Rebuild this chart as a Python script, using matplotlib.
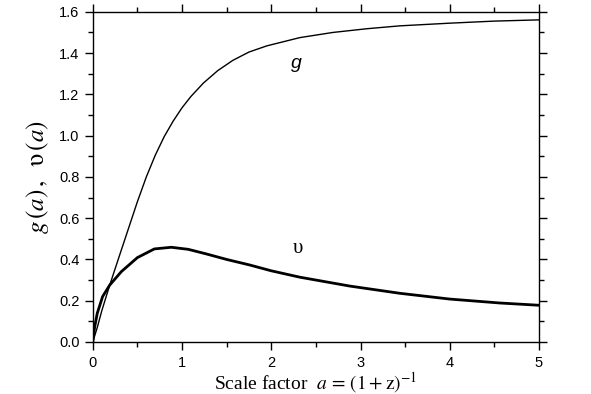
import numpy as np
import matplotlib
matplotlib.use("Agg")
import matplotlib.pyplot as plt
from matplotlib.ticker import MultipleLocator

plt.rcParams['font.family'] = ['Liberation Sans', 'DejaVu Sans']
plt.rcParams['mathtext.fontset'] = 'stix'

# values
a_g = [0, 0.05, 0.1, 0.19, 0.3, 0.4, 0.5, 0.6, 0.7, 0.8, 0.9, 1.0, 1.1, 1.24,
       1.4, 1.57, 1.75, 1.95, 2.32, 2.69, 3.07, 3.44, 4.0, 4.5, 5.0]
g_vals = [0, 0.07, 0.15, 0.276, 0.42, 0.55, 0.68, 0.80, 0.905, 0.995, 1.07,
          1.135, 1.19, 1.255, 1.315, 1.365, 1.405, 1.435, 1.475, 1.50, 1.518,
          1.532, 1.545, 1.555, 1.561]

a_v = [0, 0.02, 0.05, 0.11, 0.19, 0.32, 0.5, 0.69, 0.88, 1.07, 1.27, 1.5, 1.76,
       2.0, 2.32, 2.88, 3.44, 4.0, 4.56, 5.0]
v_vals = [0, 0.07, 0.139, 0.22, 0.276, 0.341, 0.409, 0.451, 0.459, 0.449, 0.427,
          0.40, 0.373, 0.345, 0.314, 0.271, 0.236, 0.208, 0.189, 0.178]

fig = plt.figure(figsize=(5.91, 3.94), dpi=100)
ax = fig.add_axes([0.157, 0.132, 0.755, 0.838])

ax.plot(a_g, g_vals, color='black', lw=1.0)
ax.plot(a_v, v_vals, color='black', lw=2.0)

ax.text(2.28, 1.35, 'g', fontsize=14, style='italic', ha='center', va='center')
ax.text(2.30, 0.455, 'υ', fontsize=15, family='Liberation Serif',
        ha='center', va='center')

ax.set_xlim(0, 5)
ax.set_ylim(0, 1.6)
ax.xaxis.set_major_locator(MultipleLocator(1))
ax.xaxis.set_minor_locator(MultipleLocator(0.5))
ax.yaxis.set_major_locator(MultipleLocator(0.2))
ax.yaxis.set_minor_locator(MultipleLocator(0.1))
ax.yaxis.set_major_formatter(plt.FormatStrFormatter('%.1f'))

ax.tick_params(which='both', direction='out', top=True, right=True,
               labeltop=False, labelright=False, width=1.0, labelsize=10.5)
ax.tick_params(which='major', length=6)
ax.tick_params(which='minor', length=3.5)
ax.tick_params(axis='x', pad=4)
for s in ax.spines.values():
    s.set_linewidth(1.0)

ax.set_xlabel(r'Scale factor  $a\,=\,(1+\mathrm{z})^{\mathrm{-1}}$',
              fontsize=14, family='Liberation Serif', labelpad=0)
ax.set_ylabel(r'$g\,(a)\,,\;\;\mathrm{υ}\,(a)$', fontsize=18, labelpad=6)

fig.savefig('out.png', dpi=100)
